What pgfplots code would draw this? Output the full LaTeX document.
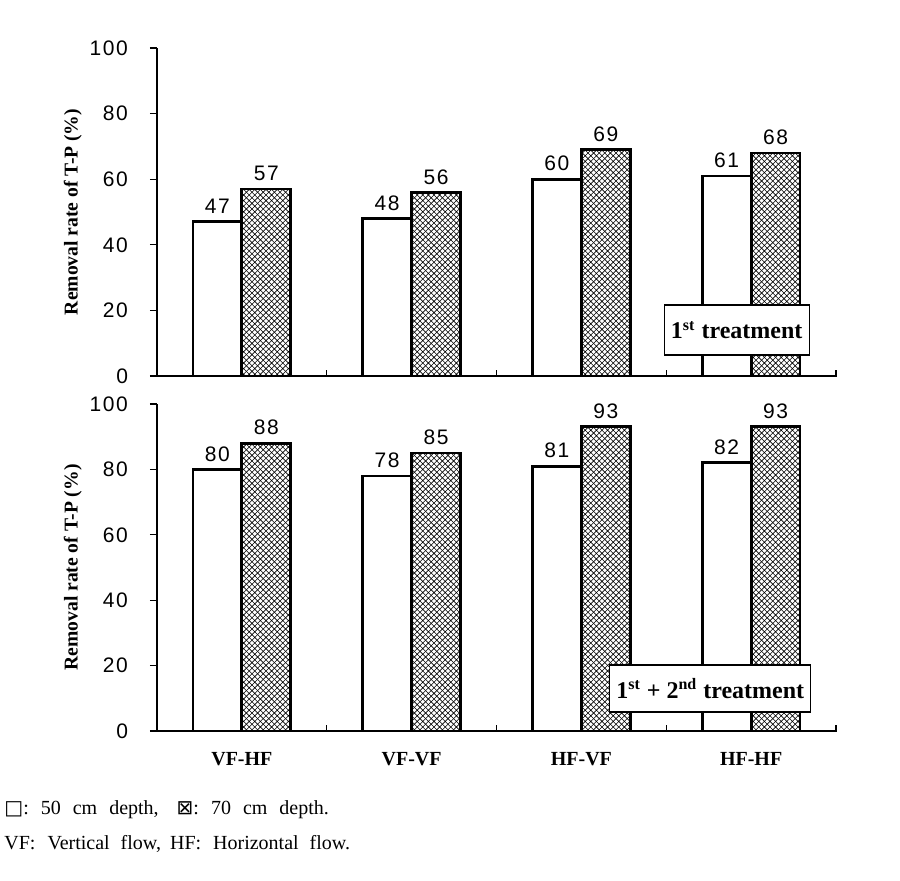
\documentclass[border=0pt]{standalone}
\usepackage{fontspec}
\setmainfont{Liberation Serif}
\newfontfamily\arial{Liberation Sans}[LetterSpace=8]
\newfontfamily\dejavu{DejaVu Sans}
\usepackage{pgfplots}
\pgfplotsset{compat=1.18}
\usetikzlibrary{patterns}
\pgfdeclarepatternformonly{diagx}{\pgfqpoint{-0.5pt}{-0.5pt}}{\pgfqpoint{3.3pt}{3.3pt}}{\pgfqpoint{2.8pt}{2.8pt}}{%
 \pgfsetlinewidth{0.3pt}%
 \pgfpathmoveto{\pgfqpoint{0pt}{0pt}}\pgfpathlineto{\pgfqpoint{2.8pt}{2.8pt}}%
 \pgfpathmoveto{\pgfqpoint{0pt}{2.8pt}}\pgfpathlineto{\pgfqpoint{2.8pt}{0pt}}%
 \pgfusepath{stroke}}
\pgfplotsset{mystyle/.style={
  scale only axis, width=339.5pt, height=164pt,
  xmin=-0.5, xmax=3.5, ymin=0, ymax=100, clip=false,
  axis lines=left, axis line style={-, line width=0.6pt},
  tick align=outside, major tick length=3.5pt,
  tick style={line width=0.6pt, black},
  x tick style={yshift=3pt},
  ytick={0,20,...,100},
  xtick={0.5,1.5,2.5,3.5}, xticklabels={},
  /pgf/number format/assume math mode=true,
  yticklabel style={font=\arial\fontsize{10.5}{12}\selectfont, xshift=-7.5pt},
  ylabel={\bfseries Removal rate of T-P (\%)},
  every axis y label/.append style={at={(axis description cs:-0.124,0.5)}, anchor=center, font=\fontsize{9.8}{11}\selectfont},
  every node near coord/.append style={font=\arial\fontsize{10.5}{12}\selectfont, black},
  ybar, bar width=0.288,
}}
\begin{document}
\begin{tikzpicture}
\useasboundingbox (0,0) rectangle (450pt,440.5pt);
\begin{axis}[mystyle, at={(78.5pt,252.5pt)}, anchor=south west]
\addplot[ybar, bar shift=-0.144, fill=white, draw=black, line width=1.4pt, nodes near coords] coordinates {(0,47)(1,48)(2,60)(3,61)};
\addplot[ybar, bar shift=0.144, pattern=diagx, draw=black, line width=1.4pt, nodes near coords] coordinates {(0,57)(1,56)(2,69)(3,68)};
\node[draw=black, line width=0.6pt, fill=white, minimum width=72.5pt, minimum height=25pt, font=\bfseries\fontsize{12}{14}\selectfont] at (axis cs:2.915,14) {1\textsuperscript{st} treatment};
\end{axis}
\begin{axis}[mystyle, height=163.5pt, at={(78.5pt,75pt)}, anchor=south west,
  extra x ticks={0,1,2,3}, extra x tick labels={VF-HF,VF-VF,HF-VF,HF-HF},
  extra x tick style={major tick length=0pt, xticklabel style={font=\bfseries\fontsize{10}{12}\selectfont, yshift=-7pt}}]
\addplot[ybar, bar shift=-0.144, fill=white, draw=black, line width=1.4pt, nodes near coords] coordinates {(0,80)(1,78)(2,81)(3,82)};
\addplot[ybar, bar shift=0.144, pattern=diagx, draw=black, line width=1.4pt, nodes near coords] coordinates {(0,88)(1,85)(2,93)(3,93)};
\node[draw=black, line width=0.6pt, fill=white, minimum width=99pt, minimum height=23.5pt, font=\bfseries\fontsize{12}{14}\selectfont] at (axis cs:2.759,13) {1\textsuperscript{st} + 2\textsuperscript{nd} treatment};
\end{axis}
\node[anchor=base west, inner sep=0pt, font=\fontsize{10}{12}\selectfont] at (2pt,33pt) {{\dejavu □}:\hspace{0.6em}50\hspace{0.6em}cm\hspace{0.6em}depth,\hspace{0.9em}{\dejavu ⊠}:\hspace{0.6em}70\hspace{0.6em}cm\hspace{0.6em}depth.};
\node[anchor=base west, inner sep=0pt, font=\fontsize{10}{12}\selectfont] at (2pt,15.5pt) {VF:\hspace{0.6em}Vertical\hspace{0.55em}flow,\hspace{0.45em}HF:\hspace{0.6em}Horizontal\hspace{0.55em}flow.};
\end{tikzpicture}
\end{document}
